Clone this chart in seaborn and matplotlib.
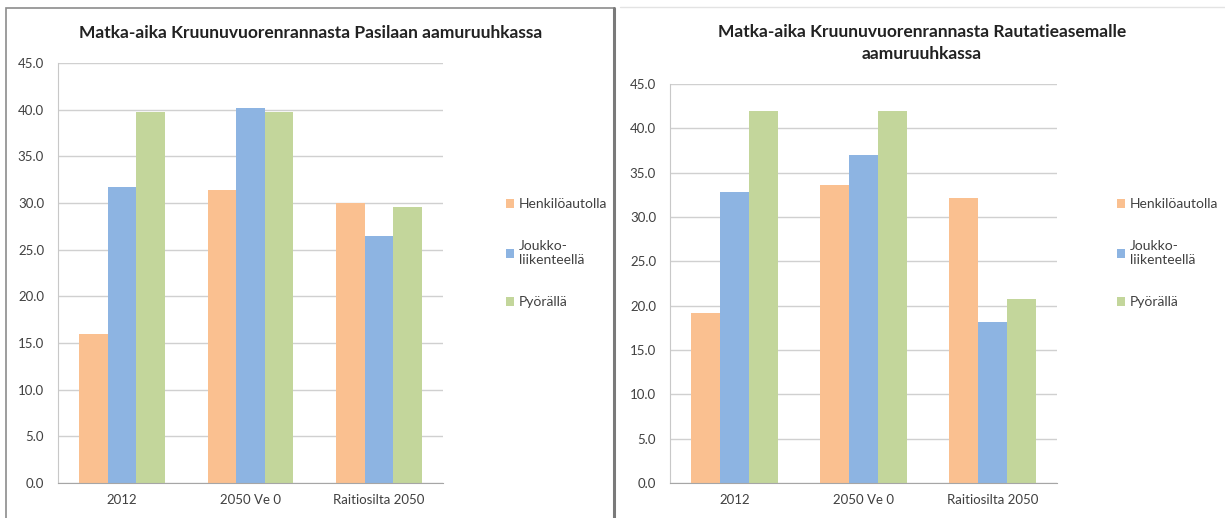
import pandas as pd
import numpy as np
import matplotlib
matplotlib.use("Agg")
import matplotlib.pyplot as plt
import seaborn as sns
from matplotlib.patches import Rectangle
from matplotlib.lines import Line2D

# data
categories = ["2012", "2050 Ve 0", "Raitiosilta 2050"]
modes = ["Henkilöautolla", "Joukko-\nliikenteellä", "Pyörällä"]
pasila_auto = [16.0, 31.4, 30.0]
pasila_joukko = [31.7, 40.2, 26.5]
pasila_pyora = [39.7, 39.7, 29.6]
asema_auto = [19.2, 33.6, 32.1]
asema_joukko = [32.8, 37.0, 18.2]
asema_pyora = [41.9, 41.9, 20.7]
yticks = np.arange(0, 45.1, 5)

colors = ["#FAC090", "#8DB4E2", "#C3D69B"]


def long_df(auto, joukko, pyora):
    rows = []
    for m, vals in zip(modes, [auto, joukko, pyora]):
        for c, v in zip(categories, vals):
            rows.append({"category": c, "mode": m, "value": v})
    return pd.DataFrame(rows)


df_pasila = long_df(pasila_auto, pasila_joukko, pasila_pyora)
df_asema = long_df(asema_auto, asema_joukko, asema_pyora)

sns.set_style("white")
plt.rcParams["font.family"] = ["Lato", "DejaVu Sans"]

W, H = 1225, 518
fig = plt.figure(figsize=(W / 100, H / 100), dpi=100)


def px_axes(x0, y0, x1, y1):
    return fig.add_axes([x0 / W, 1 - y1 / H, (x1 - x0) / W, (y1 - y0) / H])


# panel frames
fig.patches.append(Rectangle((6 / W, -0.01), (614 - 6) / W, 1 - 8 / H + 0.01,
                             transform=fig.transFigure, fill=False,
                             edgecolor="#8c8c8c", linewidth=1.2))
fig.lines.append(Line2D([614 / W, 614 / W], [0, 1 - 8 / H], transform=fig.transFigure,
                        color="#7a7a7a", linewidth=2.2))
fig.lines.append(Line2D([620 / W, 1], [1 - 7 / H, 1 - 7 / H], transform=fig.transFigure,
                        color="#e3e3e3", linewidth=1))


def draw(ax, data, title, title_x, title_y, legend_x):
    sns.barplot(data=data, x="category", y="value", hue="mode", palette=colors,
                width=0.67, saturation=1, ax=ax, linewidth=0)
    ax.set_ylim(0, 45)
    ax.set_yticks(yticks)
    ax.set_yticklabels([f"{v:.1f}" for v in yticks], fontsize=9.5, color="#404040")
    ax.tick_params(axis="x", labelsize=9.5, labelcolor="#404040", length=0, pad=8)
    ax.tick_params(axis="y", length=0, pad=10)
    ax.set_xlabel("")
    ax.set_ylabel("")
    ax.set_xlim(-0.5, 2.5)
    ax.yaxis.grid(True, color="#d0d0d0", linewidth=1)
    ax.set_axisbelow(True)
    for s in ["top", "right"]:
        ax.spines[s].set_visible(False)
    ax.spines["left"].set_color("#c8c8c8")
    ax.spines["bottom"].set_color("#a6a6a6")
    fig.text(title_x / W, 1 - title_y / H, title, ha="center", va="center",
             fontsize=12.5, fontweight="bold", color="#222222", linespacing=1.4)
    handles, labels = ax.get_legend_handles_labels()
    ax.legend(handles, labels, loc="upper left", bbox_to_anchor=(legend_x / W, 1 - 186 / H),
              bbox_transform=fig.transFigure, frameon=False, fontsize=10,
              labelcolor="#404040", handlelength=0.6, handleheight=0.6,
              handletextpad=0.35, labelspacing=2.15)


ax1 = px_axes(58, 63, 443, 483)
draw(ax1, df_pasila, "Matka-aika Kruunuvuorenrannasta Pasilaan aamuruuhkassa", 311, 33, 493)

ax2 = px_axes(670, 84, 1057, 483)
draw(ax2, df_asema, "Matka-aika Kruunuvuorenrannasta Rautatieasemalle\naamuruuhkassa",
     922, 43, 1104)

fig.savefig("out.png", dpi=100)
